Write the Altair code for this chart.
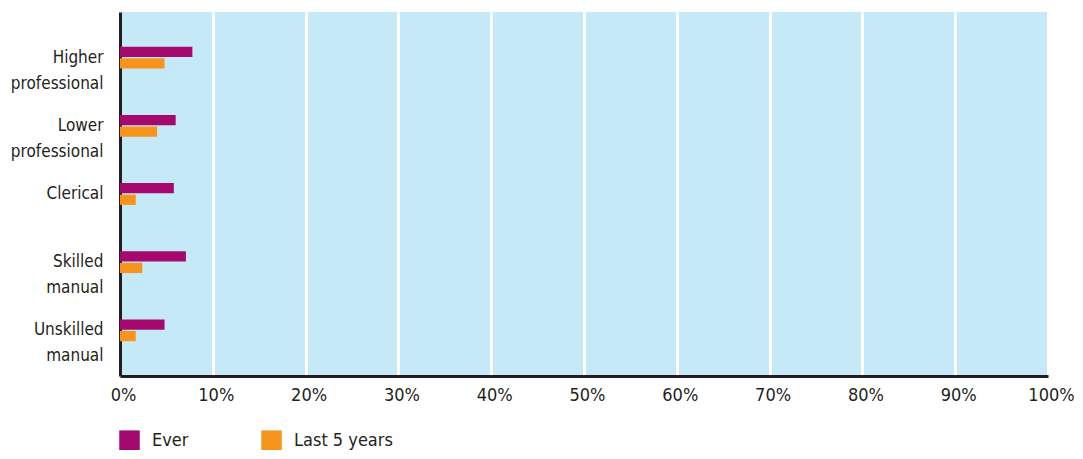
import altair as alt
import pandas as pd

categories = ["Higher|professional", "Lower|professional", "Clerical", "Skilled|manual", "Unskilled|manual"]
ever = [0.078, 0.060, 0.058, 0.071, 0.048]
last5 = [0.048, 0.040, 0.017, 0.024, 0.017]
series = ["Ever", "Last 5 years"]
colors = ["#a6096e", "#f7941d"]
x_ticks = [0.0, 0.1, 0.2, 0.3, 0.4, 0.5, 0.6, 0.7, 0.8, 0.9, 1.0]

rows = []
for c, e, l in zip(categories, ever, last5):
    rows.append({"cat": c, "series": series[0], "value": e})
    rows.append({"cat": c, "series": series[1], "value": l})
df = pd.DataFrame(rows)

FONT = "DejaVu Sans Condensed, Roboto Condensed, Roboto"
TXT = "#231f20"

chart = alt.Chart(df).mark_bar().encode(
    x=alt.X("value:Q",
            scale=alt.Scale(domain=[0, 1], nice=False),
            axis=alt.Axis(values=x_ticks, format=".0%", title=None, ticks=False,
                          grid=True, gridColor="white", gridWidth=3,
                          domainColor=TXT, domainWidth=3,
                          labelFont=FONT, labelFontSize=18, labelColor=TXT,
                          labelPadding=10, labelOffset=3, labelFlush=False)),
    y=alt.Y("cat:N", sort=categories,
            scale=alt.Scale(paddingInner=0.68, paddingOuter=0.51),
            axis=alt.Axis(title=None, ticks=False, grid=False,
                          domainColor=TXT, domainWidth=3,
                          labelExpr="split(datum.value, '|')",
                          labelFont=FONT, labelFontSize=17, labelColor=TXT,
                          labelLineHeight=26, labelPadding=17, labelBaseline="middle")),
    yOffset=alt.YOffset("series:N", sort=series, scale=alt.Scale(paddingInner=0.12)),
    color=alt.Color("series:N", sort=series,
                    scale=alt.Scale(domain=series, range=colors),
                    legend=alt.Legend(title=None, orient="none", direction="horizontal",
                                      legendX=-1, legendY=418,
                                      symbolType="square", symbolSize=420,
                                      symbolStrokeWidth=0, symbolOpacity=1,
                                      labelFont=FONT, labelFontSize=18, labelColor=TXT,
                                      labelOffset=12, columnPadding=72)),
).properties(
    width=928, height=364,
    padding={"left": 112, "top": 4, "right": 27, "bottom": 74},
    autosize=alt.AutoSizeParams(type="none"),
).configure_view(
    fill="#c6e9f8", stroke=None
)

chart.save("out.html", embed_options={"renderer": "svg", "actions": False})
